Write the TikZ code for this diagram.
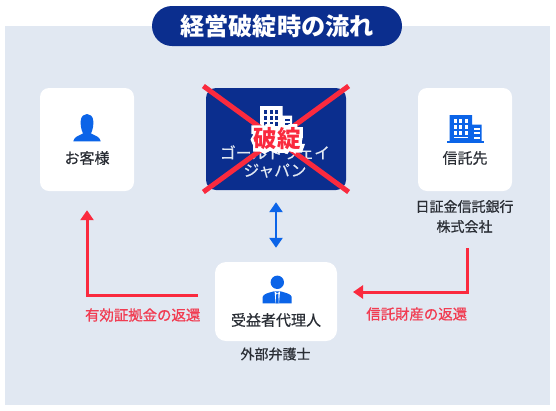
\documentclass[tikz,border=0pt]{standalone}
\usepackage{fontspec}
\setmainfont{Noto Sans CJK JP}
\newfontfamily\haloface[FakeBold=30]{Noto Sans CJK JP}
\newfontfamily\medface[FakeBold=0.5]{Noto Sans CJK JP}
\newfontfamily\heavyface[FakeBold=0.9]{Noto Sans CJK JP}
\usetikzlibrary{arrows.meta}
\definecolor{panel}{HTML}{E1E8F2}
\definecolor{navy}{HTML}{0B2E8E}
\definecolor{azure}{HTML}{0B64E8}
\definecolor{alert}{HTML}{FA2A3E}
\definecolor{alerttext}{HTML}{F13C52}
\definecolor{ink}{HTML}{2A2E35}
\tikzset{
  card/.style={fill=white,rounded corners=9pt,minimum width=94pt,minimum height=103pt,inner sep=0pt},
  cardname/.style={text=ink,font=\medface\fontsize{15}{18}\selectfont,inner sep=0pt},
  subname/.style={text=ink,font=\medface\fontsize{14}{20}\selectfont,align=center,inner sep=0pt},
  refund/.style={alert,line width=3pt,-{Triangle[width=13pt,length=10pt]}},
  refundname/.style={text=alerttext,font=\heavyface\fontsize{14.4}{16}\selectfont,inner sep=0pt},
}
% building icon: top left of the tall block, body colour, window colour
\newcommand{\buildingicon}[3]{
  \begin{scope}[shift={(#1)}]
    \fill[#2] (0,0) rectangle (22.5,26) (22.5,9.5) rectangle (32,26);
    \fill[#2] (-2.5,26) rectangle (34,28.2);
    \foreach \x in {4,9.7,15.4}{\foreach \y in {3.5,9.5,15.5}{
       \fill[#3] (\x,\y) rectangle ++(3,4.2);}}
    \fill[#3] (4,21.8) rectangle (18.4,23.4);
    \foreach \y in {13,17.3,21.6}{\fill[#3] (24.5,\y) rectangle ++(5.5,2);}
  \end{scope}}

\begin{document}
\begin{tikzpicture}[x=1pt,y=-1pt]
  \useasboundingbox (0,0) rectangle (556,410);
  \fill[white] (0,0) rectangle (556,410);
  \fill[panel] (5,26) rectangle (550,405);
  % title
  \node[fill=navy,rounded corners=20pt,minimum width=250pt,minimum height=40pt,inner sep=0pt,
        text=white,font=\fontsize{24.2}{26}\selectfont\bfseries] (title) at (277,26) {経営破綻時の流れ};
  % cards
  \node[card] (customer) at (87,139.5) {};
  \node[card] (trust) at (465,139.5) {};
  \node[fill=navy,rounded corners=10pt,minimum width=140pt,minimum height=102pt,inner sep=0pt] (failed) at (276,139) {};
  \node[card,minimum width=122pt,minimum height=79pt,rounded corners=11pt] (agent) at (276,301.5) {};
  % customer
  \fill[azure] (73.3,141.3) .. controls (74,137) and (78,136) .. (83,133.5)
     .. controls (81,129) and (80.5,125) .. (80.7,121) .. controls (81,116) and (84,114) .. (87,114)
     .. controls (90,114) and (93,116) .. (93.3,121) .. controls (93.5,125) and (93,129) .. (91,133.5)
     .. controls (96,136) and (100,137) .. (100.7,141.3) -- cycle;
  \node[cardname] (customername) at (87,158) {お客様};
  % failed company
  \buildingicon{260,106}{white}{navy}
  \node[text=panel,font=\medface\fontsize{15.7}{17.5}\selectfont,align=center,inner sep=0pt] (failedname) at (275,161.5) {ゴールドウェイ\\ジャパン};
  \draw[alert,line width=5pt,shorten <=-3pt,shorten >=-3pt] (failed.north west) -- (failed.south east);
  \draw[alert,line width=5pt,shorten <=-3pt,shorten >=-3pt] (failed.north east) -- (failed.south west);
  \node[text=white,font=\haloface\fontsize{23.5}{26}\selectfont,inner sep=0pt] (brokenhalo) at (277.3,138.5) {破綻};
  \node[text=alert,font=\fontsize{23.5}{26}\selectfont\bfseries,inner sep=0pt] (broken) at (277.3,138.5) {破綻};
  % trustee
  \buildingicon{449.5,115}{azure}{white}
  \node[cardname] (trustname) at (465,158) {信託先};
  \node[subname] (trustsub) at (464.5,216.5) {日証金信託銀行\\株式会社};
  % agent
  \fill[azure] (277.3,282.3) circle (6.7pt);
  \fill[azure] (262.7,303.3) -- (262.7,297) .. controls (263,294) and (268,293) .. (274,291.3)
     -- (280.5,291.3) .. controls (286,293) and (291.4,294) .. (291.7,297) -- (291.7,303.3) -- cycle;
  \fill[white] (274.6,291.3) -- (277.3,293.5) -- (280,291.3) -- (279,303.3) -- (275.6,303.3) -- cycle;
  \fill[azure] (276.3,293.8) -- (278.3,293.8) -- (278.7,303.3) -- (275.9,303.3) -- cycle;
  \node[cardname] (agentname) at (276,320) {受益者代理人};
  \node[subname] (agentsub) at (275.5,354) {外部弁護士};
  % connectors
  \coordinate (marginstart) at (198,295);
  \coordinate (assetstart) at (467.5,248);
  \coordinate (assetend) at (337,292);
  \draw[azure,line width=2.6pt,{Triangle[width=13pt,length=10pt]}-{Triangle[width=13pt,length=10pt]},
        shorten <=12pt,shorten >=14pt] (failed.south) -- (agent.north);
  \draw[refund,shorten >=19pt] (marginstart) -| (customer.south);
  \draw[refund,shorten >=16pt] (assetstart) |- (assetend);
  \node[refundname] (marginname) at (142.7,315) {有効証拠金の返還};
  \node[refundname] (assetname) at (416.7,314) {信託財産の返還};
\end{tikzpicture}
\end{document}
